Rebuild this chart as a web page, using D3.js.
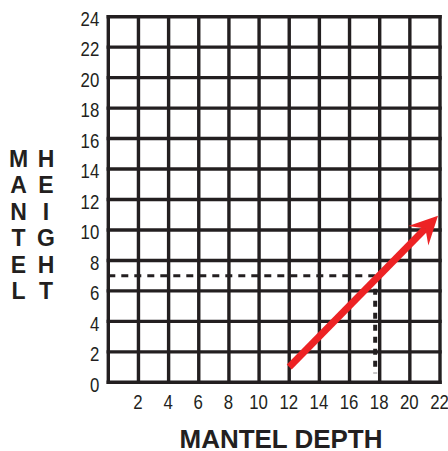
<html>
<script src='https://d3js.org/d3.v7.min.js'></script>
<style>
body {margin: 0; background: white;}
.tick text {font-family: 'Liberation Sans', Arial, sans-serif; font-size: 21px; fill: #231f20;}
.title {font-family: 'Liberation Sans', Arial, sans-serif; font-weight: bold; fill: #231f20;}
</style>
<body>
<svg width=448 height=451></svg>
<script>
// values
const xTicks = [2, 4, 6, 8, 10, 12, 14, 16, 18, 20, 22];
const yTicks = [0, 2, 4, 6, 8, 10, 12, 14, 16, 18, 20, 22, 24];
const xGrid = [0, 2, 4, 6, 8, 10, 12, 14, 16, 18, 20, 22];
const yGrid = [0, 2, 4, 6, 8, 10, 12, 14, 16, 18, 20, 22, 24];
const arrowFrom = [12, 1];
const arrowTo = [22, 11];
const guide = [18, 7];
const xTitle = 'MANTEL DEPTH';
const yTitleWords = ['MANTEL', 'HEIGHT'];

const ink = '#231f20';
const svg = d3.select('svg');
const x = d3.scaleLinear([0, 22], [108.3, 440]);
const y = d3.scaleLinear([0, 24], [382.3, 16.7]);

// grid
const grid = svg.append('g').attr('stroke', ink).attr('stroke-width', 3.4);
grid.selectAll('.v').data(xGrid).enter().append('line')
  .attr('x1', d => x(d)).attr('x2', d => x(d))
  .attr('y1', y(24) - 1.7).attr('y2', y(0) + 1.7);
grid.selectAll('.h').data(yGrid).enter().append('line')
  .attr('y1', d => y(d)).attr('y2', d => y(d))
  .attr('x1', x(0) - 1.7).attr('x2', x(22) + 1.7);

// tick labels (narrow type, like the original)
svg.append('g')
  .attr('transform', 'translate(' + (x(0) - 9) + ',2)')
  .call(d3.axisLeft(y).tickValues(yTicks).tickSize(0).tickPadding(0))
  .call(g => g.select('.domain').remove())
  .selectAll('text').attr('transform', 'scale(0.8,1)');
svg.append('g')
  .attr('transform', 'translate(-1,' + (y(0) + 12) + ')')
  .call(d3.axisBottom(x).tickValues(xTicks).tickSize(0).tickPadding(0))
  .call(g => g.select('.domain').remove())
  .selectAll('text').attr('transform', 'scale(0.8,1)');

// dashed guides
svg.append('line')
  .attr('x1', x(0)).attr('x2', x(guide[0]))
  .attr('y1', y(guide[1])).attr('y2', y(guide[1]))
  .attr('stroke', ink).attr('stroke-width', 3).attr('stroke-dasharray', '7,6');
svg.append('line')
  .attr('x1', x(guide[0]) - 4.5).attr('x2', x(guide[0]) - 4.5)
  .attr('y1', y(guide[1]) + 13).attr('y2', y(0) - 9)
  .attr('stroke', ink).attr('stroke-width', 4).attr('stroke-dasharray', '6,6');

// red arrow
const p0 = [x(arrowFrom[0]), y(arrowFrom[1])];
const p1 = [x(arrowTo[0]) - 2, y(arrowTo[1]) + 1];
const len = Math.hypot(p1[0] - p0[0], p1[1] - p0[1]);
const u = [(p1[0] - p0[0]) / len, (p1[1] - p0[1]) / len];
const n = [-u[1], u[0]];
const at = (b, s) => [p1[0] - u[0] * b + n[0] * s, p1[1] - u[1] * b + n[1] * s];
const red = '#ed2224';
svg.append('line')
  .attr('x1', p0[0]).attr('y1', p0[1])
  .attr('x2', at(18, 0)[0]).attr('y2', at(18, 0)[1])
  .attr('stroke', red).attr('stroke-width', 7);
svg.append('path')
  .attr('d', d3.line()([p1, at(28, 14), at(18, 0), at(28, -14)]) + 'Z')
  .attr('fill', red);

// titles
svg.append('text').attr('class', 'title')
  .attr('x', 281).attr('y', 447.5)
  .attr('text-anchor', 'middle').attr('font-size', 26)
  .attr('textLength', 203).attr('lengthAdjust', 'spacingAndGlyphs')
  .text(xTitle);
yTitleWords.forEach(function(w, j) {
  svg.append('g').selectAll('text')
    .data(w.split(''))
    .enter().append('text').attr('class', 'title')
    .attr('x', 18.5 + j * 27.5)
    .attr('y', (d, i) => 166.5 + i * 26.5)
    .attr('text-anchor', 'middle').attr('font-size', 23)
    .text(d => d);
});
</script>
</body>
</html>
